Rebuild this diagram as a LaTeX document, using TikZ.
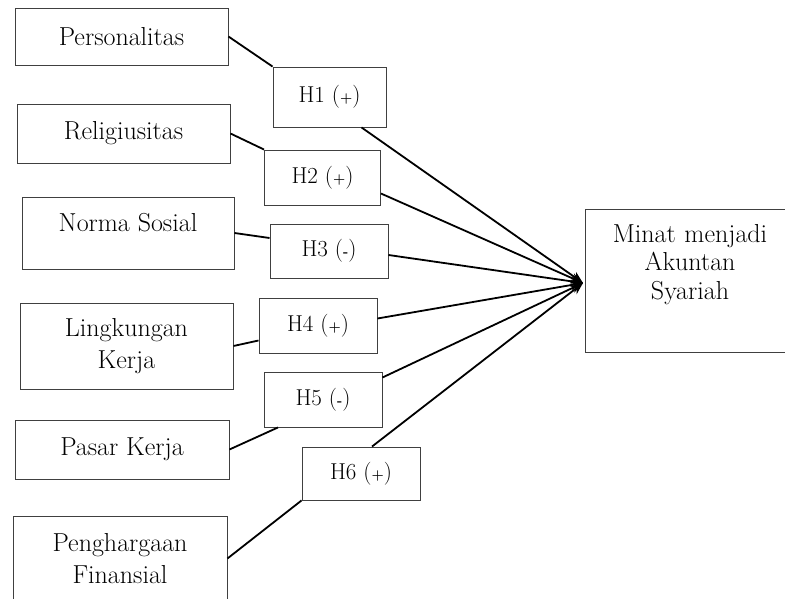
\documentclass[tikz,border=0pt]{standalone}
\usetikzlibrary{arrows.meta}
\newcommand{\hlab}[2]{#1 ({\fontsize{14}{14}\selectfont\bfseries #2})}
\begin{document}
\begin{tikzpicture}[x=1pt,y=-1pt,
  txt/.style={font=\fontsize{26}{31.5}\selectfont, align=center},
  box/.style={draw=black!75, line width=0.9pt, rectangle, inner sep=0pt, txt},
  hbox/.style={box, minimum width=118pt, minimum height=55pt, font=\fontsize{23}{28}\selectfont},
  link/.style={line width=1.8pt, black},
  arr/.style={link, -{Stealth[length=12pt,width=10pt]}}]
\useasboundingbox (0,0) rectangle (785,599);
% left boxes
\node[box, minimum width=213pt, minimum height=57pt] (P) at (121.5,36.5) {Personalitas};
\node[box, minimum width=213pt, minimum height=59pt] (R) at (123.5,133.5) {Religiusitas};
\node[box, minimum width=212pt, minimum height=72pt,
      label={[txt, yshift=10pt]center:Norma Sosial}] (N) at (128,233) {};
\node[box, minimum width=213pt, minimum height=86pt] (L) at (126.5,346) {Lingkungan\\Kerja};
\node[box, minimum width=214pt, minimum height=59pt] (K) at (122,449.5) {Pasar Kerja};
\node[box, minimum width=214pt, minimum height=85pt] (F) at (120,558.5) {Penghargaan\\Finansial};
% hypothesis boxes
\node[hbox, minimum width=113pt, minimum height=60pt] (H1) at (329.5,97) {\hlab{H1}{+}};
\node[hbox, minimum width=116pt] (H2) at (322.5,177.5) {\hlab{H2}{+}};
\node[hbox, minimum height=54pt] (H3) at (329,251) {\hlab{H3}{-}};
\node[hbox] (H4) at (318,325.5) {\hlab{H4}{+}};
\node[hbox] (H5) at (323,399.5) {\hlab{H5}{-}};
\node[hbox, minimum height=53pt] (H6) at (361,473.5) {\hlab{H6}{+}};
% target
\node[box, minimum width=210pt, minimum height=143pt,
      label={[txt, text width=200pt, font=\fontsize{26}{28.5}\selectfont, yshift=16pt]center:Minat menjadi\\Akuntan\\Syariah}] (T) at (690,280.5) {};
\coordinate (conv) at (583,283);
% links
\draw[link] (P.east) -- (H1.north west);
\draw[link] (R.east) -- (H2.north west);
\draw[link] (N.east) -- ([yshift=13pt]H3.west);
\draw[link] (L.east) -- ([yshift=-15pt]H4.west);
\draw[link] (K.east) -- ([xshift=-45pt]H5.south);
\draw[link] (F.east) -- (H6.south west);
\draw[arr] ([xshift=32pt]H1.south) -- (conv);
\draw[arr] ([yshift=-16pt]H2.east) -- (conv);
\draw[arr] ([yshift=-4pt]H3.east) -- (conv);
\draw[arr] ([yshift=7pt]H4.east) -- (conv);
\draw[arr] ([yshift=22pt]H5.east) -- (conv);
\draw[arr] ([xshift=11pt]H6.north) -- (conv);
\end{tikzpicture}
\end{document}
